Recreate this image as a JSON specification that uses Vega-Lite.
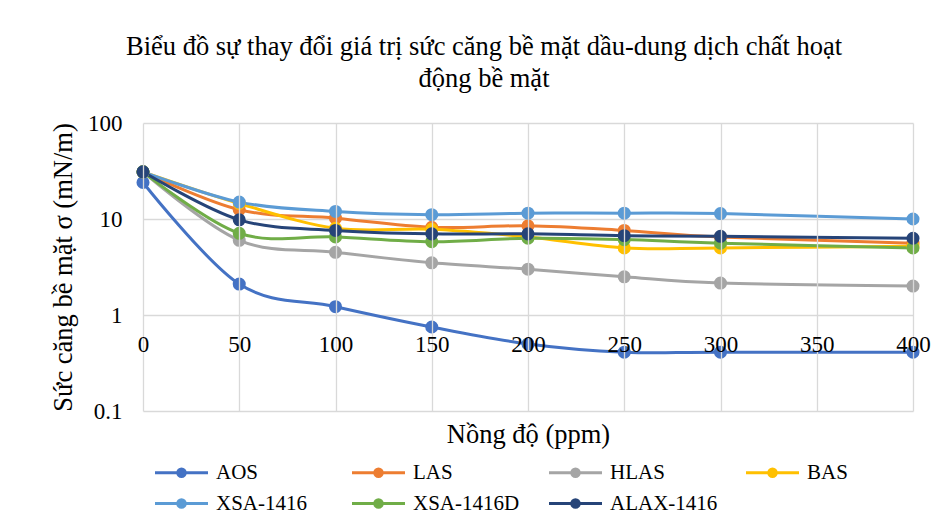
{
  "$schema": "https://vega.github.io/schema/vega-lite/v6.json",
  "width": 770,
  "height": 288,
  "autosize": {"type": "none"},
  "padding": {"left": 143, "top": 123, "right": 36, "bottom": 114},
  "background": "white",
  "config": {
    "view": {"stroke": null},
    "font": "Liberation Serif, serif",
    "axis": {"labelFont": "Liberation Serif, serif", "titleFont": "Liberation Serif, serif"},
    "legend": {"labelFont": "Liberation Serif, serif", "labelFontSize": 21, "labelColor": "black"}
  },
  "title": {
    "text": ["Biểu đồ sự thay đổi giá trị sức căng bề mặt dầu-dung dịch chất hoạt", "động bề mặt"],
    "anchor": "middle",
    "frame": "group",
    "dx": -44,
    "offset": 20,
    "lineHeight": 32,
    "font": "Liberation Serif, serif",
    "fontSize": 26.5,
    "fontWeight": "normal",
    "color": "black"
  },
  "data": {
    "values": [
      {"s": "AOS", "x": 0, "y": 24}, {"s": "AOS", "x": 50, "y": 2.1}, {"s": "AOS", "x": 100, "y": 1.22}, {"s": "AOS", "x": 150, "y": 0.75}, {"s": "AOS", "x": 200, "y": 0.5}, {"s": "AOS", "x": 250, "y": 0.41}, {"s": "AOS", "x": 300, "y": 0.41}, {"s": "AOS", "x": 400, "y": 0.41},
      {"s": "LAS", "x": 0, "y": 31}, {"s": "LAS", "x": 50, "y": 12.5}, {"s": "LAS", "x": 100, "y": 10.2}, {"s": "LAS", "x": 150, "y": 8.2}, {"s": "LAS", "x": 200, "y": 8.5}, {"s": "LAS", "x": 250, "y": 7.6}, {"s": "LAS", "x": 300, "y": 6.5}, {"s": "LAS", "x": 400, "y": 5.6},
      {"s": "HLAS", "x": 0, "y": 31}, {"s": "HLAS", "x": 50, "y": 6.0}, {"s": "HLAS", "x": 100, "y": 4.5}, {"s": "HLAS", "x": 150, "y": 3.5}, {"s": "HLAS", "x": 200, "y": 3.0}, {"s": "HLAS", "x": 250, "y": 2.5}, {"s": "HLAS", "x": 300, "y": 2.15}, {"s": "HLAS", "x": 400, "y": 2.0},
      {"s": "BAS", "x": 0, "y": 31}, {"s": "BAS", "x": 50, "y": 14.5}, {"s": "BAS", "x": 100, "y": 8.0}, {"s": "BAS", "x": 150, "y": 7.8}, {"s": "BAS", "x": 200, "y": 6.5}, {"s": "BAS", "x": 250, "y": 5.0}, {"s": "BAS", "x": 300, "y": 5.0}, {"s": "BAS", "x": 400, "y": 5.2},
      {"s": "XSA-1416", "x": 0, "y": 31}, {"s": "XSA-1416", "x": 50, "y": 15}, {"s": "XSA-1416", "x": 100, "y": 12}, {"s": "XSA-1416", "x": 150, "y": 11.1}, {"s": "XSA-1416", "x": 200, "y": 11.5}, {"s": "XSA-1416", "x": 250, "y": 11.5}, {"s": "XSA-1416", "x": 300, "y": 11.4}, {"s": "XSA-1416", "x": 400, "y": 10},
      {"s": "XSA-1416D", "x": 0, "y": 31}, {"s": "XSA-1416D", "x": 50, "y": 7.1}, {"s": "XSA-1416D", "x": 100, "y": 6.5}, {"s": "XSA-1416D", "x": 150, "y": 5.8}, {"s": "XSA-1416D", "x": 200, "y": 6.3}, {"s": "XSA-1416D", "x": 250, "y": 6.1}, {"s": "XSA-1416D", "x": 300, "y": 5.6}, {"s": "XSA-1416D", "x": 400, "y": 5.0},
      {"s": "ALAX-1416", "x": 0, "y": 31}, {"s": "ALAX-1416", "x": 50, "y": 9.8}, {"s": "ALAX-1416", "x": 100, "y": 7.6}, {"s": "ALAX-1416", "x": 150, "y": 7.0}, {"s": "ALAX-1416", "x": 200, "y": 7.0}, {"s": "ALAX-1416", "x": 250, "y": 6.7}, {"s": "ALAX-1416", "x": 300, "y": 6.6}, {"s": "ALAX-1416", "x": 400, "y": 6.3}
    ]
  },
  "encoding": {
    "x": {
      "field": "x",
      "type": "quantitative",
      "scale": {"domain": [0, 400], "nice": false, "zero": false},
      "axis": {
        "values": [0, 50, 100, 150, 200, 250, 300, 350, 400],
        "title": "Nồng độ (ppm)",
        "titleFontSize": 26.5,
        "titleFontWeight": "normal",
        "titleColor": "black",
        "titlePadding": 10,
        "labelFontSize": 23,
        "labelColor": "black",
        "labelFlush": false,
        "labelOverlap": false,
        "labelBaseline": "middle",
        "labelPadding": -67,
        "ticks": false,
        "tickSize": 0,
        "domain": false,
        "grid": true,
        "gridColor": "#d9d9d9",
        "gridWidth": 1.3,
        "zindex": 1
      }
    },
    "y": {
      "field": "y",
      "type": "quantitative",
      "scale": {"type": "log", "domain": [0.1, 100], "nice": false},
      "axis": {
        "values": [0.1, 1, 10, 100],
        "format": "~g",
        "title": "Sức căng bề mặt σ (mN/m)",
        "titleFontSize": 26.5,
        "titleFontWeight": "normal",
        "titleColor": "black",
        "titlePadding": 10,
        "labelFontSize": 23,
        "labelColor": "black",
        "labelPadding": 21,
        "labelOverlap": false,
        "ticks": false,
        "tickSize": 0,
        "domain": false,
        "grid": true,
        "gridColor": "#d9d9d9",
        "gridWidth": 1.3
      }
    },
    "color": {
      "field": "s",
      "type": "nominal",
      "scale": {
        "domain": ["AOS", "LAS", "HLAS", "BAS", "XSA-1416", "XSA-1416D", "ALAX-1416"],
        "range": ["#4472C4", "#ED7D31", "#A5A5A5", "#FFC000", "#5B9BD5", "#70AD47", "#264478"]
      },
      "legend": {
        "orient": "none",
        "legendX": 28,
        "legendY": 339,
        "direction": "horizontal",
        "columns": 4,
        "gridAlign": "all",
        "columnPadding": 22,
        "rowPadding": 9,
        "title": null,
        "padding": 0,
        "symbolType": "M-5.3,0H5.3M-0.75,0A0.75,0.75,0,1,1,0.75,0A0.75,0.75,0,1,1,-0.75,0Z",
        "symbolSize": 100,
        "symbolStrokeWidth": 3,
        "labelOffset": 24,
        "labelLimit": 300,
        "encode": {
          "symbols": {
            "update": {
              "fill": {"scale": "color", "field": "value"},
              "stroke": {"scale": "color", "field": "value"},
              "opacity": {"value": 1}
            }
          }
        }
      }
    }
  },
  "layer": [
    {"mark": {"type": "line", "interpolate": "cardinal", "strokeWidth": 3}},
    {"mark": {"type": "point", "filled": true, "size": 170, "opacity": 1}}
  ]
}
